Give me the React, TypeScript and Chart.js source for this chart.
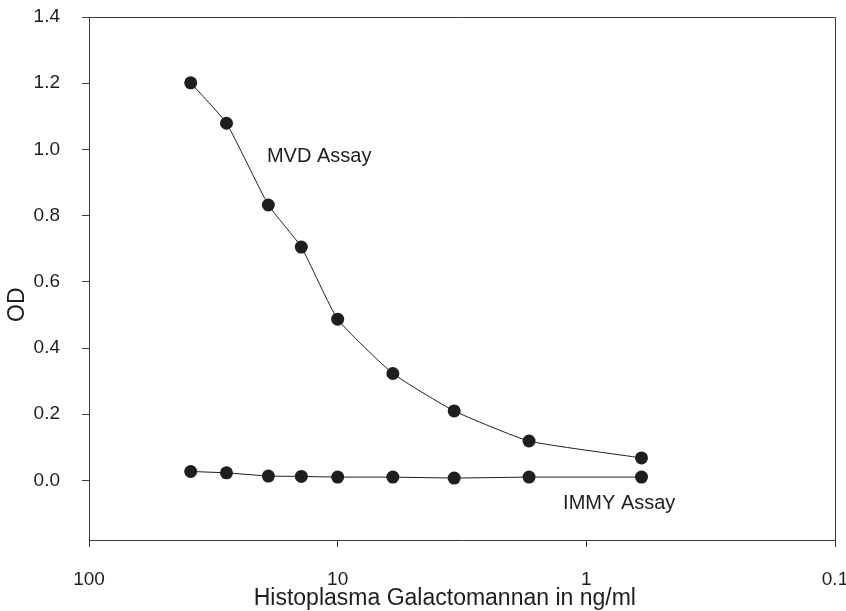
import { useEffect, useRef } from "react";
import { Chart, registerables } from "chart.js";

Chart.register(...registerables);

// Concentrations (ng/ml) shared by both series
const concentrations = [39, 28, 19, 14, 10, 6, 3.4, 1.7, 0.6];
const mvdOD = [1.201, 1.079, 0.832, 0.705, 0.487, 0.323, 0.21, 0.119, 0.068];
const immyOD = [0.027, 0.023, 0.013, 0.012, 0.01, 0.01, 0.007, 0.01, 0.01];

const xTickValues = [100, 10, 1, 0.1];
const xTickLabels = ["100", "10", "1", "0.1"];
const yTickValues = [0, 0.2, 0.4, 0.6, 0.8, 1.0, 1.2, 1.4];
const yTickLabels = ["0.0", "0.2", "0.4", "0.6", "0.8", "1.0", "1.2", "1.4"];

const seriesNames = ["MVD Assay", "IMMY Assay"];
const labelX = [19.25, 1.24];
const labelY = [0.98, -0.07];

const xTitle = "Histoplasma Galactomannan in ng/ml";
const yTitle = "OD";

const FONT = "'Liberation Sans', Arial, Helvetica, sans-serif";
const INK = "#1e1e1e";
const AXIS = "#3a3a3a";

export default function App() {
  const ref = useRef<HTMLCanvasElement | null>(null);

  useEffect(() => {
    if (!ref.current) return;

    const framePlugin = {
      id: "frame",
      afterDraw(chart: any) {
        const { ctx, chartArea } = chart;
        ctx.save();
        ctx.strokeStyle = AXIS;
        ctx.lineWidth = 1;
        ctx.beginPath();
        ctx.moveTo(chartArea.left, chartArea.top + 0.5);
        ctx.lineTo(chartArea.right + 0.5, chartArea.top + 0.5);
        ctx.lineTo(chartArea.right + 0.5, chartArea.bottom);
        ctx.stroke();
        ctx.restore();
      },
    };

    const labelPlugin = {
      id: "seriesLabels",
      afterDatasetsDraw(chart: any) {
        const { ctx, scales } = chart;
        ctx.save();
        ctx.fillStyle = INK;
        ctx.font = `20px ${FONT}`;
        ctx.textAlign = "left";
        ctx.textBaseline = "middle";
        seriesNames.forEach((name, i) => {
          const px = scales.x.getPixelForValue(labelX[i]);
          const py = scales.y.getPixelForValue(labelY[i]);
          ctx.fillText(name, px, py);
        });
        ctx.restore();
      },
    };

    const titlePlugin = {
      id: "axisTitles",
      afterDraw(chart: any) {
        const { ctx, chartArea } = chart;
        ctx.save();
        ctx.fillStyle = INK;
        ctx.font = `23px ${FONT}`;
        ctx.textAlign = "center";
        ctx.textBaseline = "middle";
        // x title, slightly left of the plot centre as in the original
        ctx.fillText(xTitle, chartArea.left + (chartArea.right - chartArea.left) * 0.477, 599);
        // y title, rotated
        ctx.translate(18, chartArea.top + (chartArea.bottom - chartArea.top) * 0.55);
        ctx.rotate(-Math.PI / 2);
        ctx.fillText(yTitle, 0, 0);
        ctx.restore();
      },
    };

    const mkData = (ys: number[]) => concentrations.map((x, i) => ({ x, y: ys[i] }));

    const chart = new Chart(ref.current, {
      type: "line",
      data: {
        datasets: [
          {
            label: seriesNames[0],
            data: mkData(mvdOD),
            borderColor: INK,
            borderWidth: 1,
            backgroundColor: INK,
            pointBackgroundColor: INK,
            pointBorderWidth: 0,
            pointRadius: 6.5,
            tension: 0.15,
          },
          {
            label: seriesNames[1],
            data: mkData(immyOD),
            borderColor: INK,
            borderWidth: 1,
            backgroundColor: INK,
            pointBackgroundColor: INK,
            pointBorderWidth: 0,
            pointRadius: 6.5,
            tension: 0,
          },
        ],
      },
      options: {
        animation: false,
        responsive: true,
        maintainAspectRatio: false,
        layout: { padding: { left: 0, right: 11, top: 17, bottom: 0 } },
        plugins: {
          legend: { display: false },
          tooltip: { enabled: false },
        },
        scales: {
          x: {
            type: "logarithmic",
            reverse: true,
            min: 0.1,
            max: 100,
            afterBuildTicks: (scale: any) => {
              scale.ticks = xTickValues.map((v) => ({ value: v }));
            },
            afterFit: (scale: any) => {
              scale.height = 71;
              scale.paddingLeft = 0;
              scale.paddingRight = 0;
            },
            ticks: {
              autoSkip: false,
              maxRotation: 0,
              padding: 21,
              color: INK,
              font: { family: FONT, size: 19 },
              callback: (value: any) => {
                const i = xTickValues.findIndex((v) => Math.abs(v - Number(value)) < 1e-9);
                return i >= 0 ? xTickLabels[i] : "";
              },
            },
            grid: {
              drawOnChartArea: false,
              drawTicks: true,
              tickLength: 7,
              color: AXIS,
            },
            border: { display: true, color: AXIS, width: 1 },
            title: { display: false, text: xTitle },
          },
          y: {
            type: "linear",
            min: -0.18,
            max: 1.4,
            afterBuildTicks: (scale: any) => {
              scale.ticks = yTickValues.map((v) => ({ value: v }));
            },
            afterFit: (scale: any) => {
              scale.width = 89;
              scale.paddingTop = 0;
              scale.paddingBottom = 0;
            },
            ticks: {
              autoSkip: false,
              padding: 22,
              color: INK,
              font: { family: FONT, size: 19 },
              callback: (value: any) => {
                const i = yTickValues.findIndex((v) => Math.abs(v - Number(value)) < 1e-9);
                return i >= 0 ? yTickLabels[i] : "";
              },
            },
            grid: {
              drawOnChartArea: false,
              drawTicks: true,
              tickLength: 7,
              color: AXIS,
            },
            border: { display: true, color: AXIS, width: 1 },
            title: { display: false, text: yTitle },
          },
        },
      },
      plugins: [framePlugin, labelPlugin, titlePlugin],
    });

    return () => chart.destroy();
  }, []);

  return (
    <div
      style={{
        position: "fixed",
        left: 0,
        top: 0,
        width: 846,
        height: 611,
        background: "#ffffff",
      }}
    >
      <canvas ref={ref} />
    </div>
  );
}
